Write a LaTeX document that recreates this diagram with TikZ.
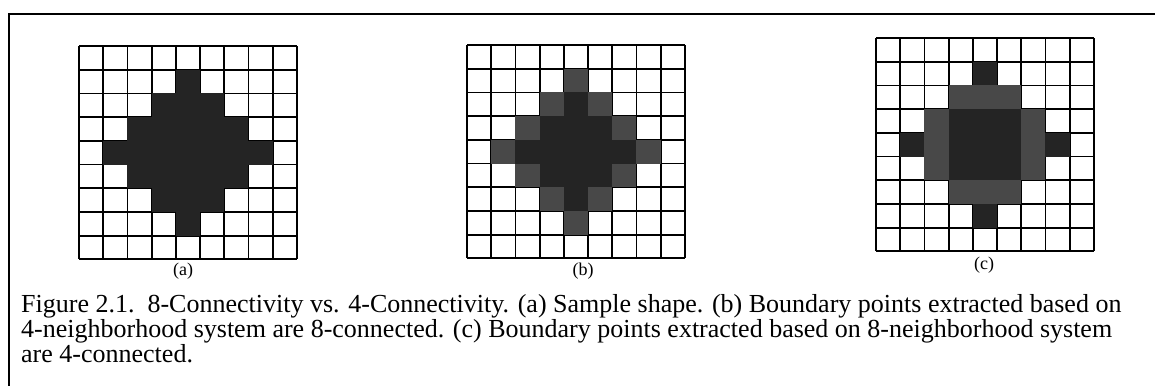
\documentclass[tikz,border=0pt]{standalone}
\usepackage{fontspec}
\setmainfont{Liberation Serif}
\usepackage{tikz}
\usetikzlibrary{positioning}
\definecolor{ink}{RGB}{36, 36, 36}
\definecolor{halftone}{RGB}{72, 72, 72}

\begin{document}
\begin{tikzpicture}[
  x=1pt, y=-1pt,
  gridline/.style={line width=1.8pt, black},
  frameline/.style={line width=2pt, black},
  fg/.style={fill=ink},
  edge/.style={fill=halftone},
  sublabel/.style={font=\fontsize{18}{18}\selectfont, inner sep=0pt},
  captext/.style={anchor=base west, inner sep=0pt, align=left,
    font=\fontsize{26}{23.6}\selectfont}
]
\useasboundingbox (0,0) rectangle (1155,386);
\draw[frameline] (1155,14) -| (9,386);

% (a) sample shape
\begin{scope}[shift={(79,46)}, x=24.2pt, y=-23.7pt]
  \foreach \i in {0,...,9} {
    \draw[gridline] (\i,0) -- (\i,9);
    \draw[gridline] (0,\i) -- (9,\i);
  }
  \foreach \r/\a/\b in {1/4/4, 2/3/5, 3/2/6, 4/1/7, 5/2/6, 6/3/5, 7/4/4}
    \fill[fg] (\a,\r) rectangle (\b+1,\r+1);
\end{scope}

% (b) 4-neighborhood boundary
\begin{scope}[shift={(467,45)}, x=24.2pt, y=-23.7pt]
  \foreach \i in {0,...,9} {
    \draw[gridline] (\i,0) -- (\i,9);
    \draw[gridline] (0,\i) -- (9,\i);
  }
  \foreach \r/\a/\b in {1/4/4, 2/3/5, 3/2/6, 4/1/7, 5/2/6, 6/3/5, 7/4/4}
    \fill[fg] (\a,\r) rectangle (\b+1,\r+1);
  \foreach \c/\r in {4/1, 3/2, 5/2, 2/3, 6/3, 1/4, 7/4, 2/5, 6/5, 3/6, 5/6, 4/7}
    \fill[edge] (\c,\r) rectangle (\c+1,\r+1);
\end{scope}

% (c) 8-neighborhood boundary
\begin{scope}[shift={(876,38)}, x=24.2pt, y=-23.7pt]
  \foreach \i in {0,...,9} {
    \draw[gridline] (\i,0) -- (\i,9);
    \draw[gridline] (0,\i) -- (9,\i);
  }
  \foreach \r/\a/\b in {1/4/4, 2/3/5, 3/2/6, 4/1/7, 5/2/6, 6/3/5, 7/4/4}
    \fill[fg] (\a,\r) rectangle (\b+1,\r+1);
  \foreach \c/\r in {3/2, 4/2, 5/2, 2/3, 2/4, 2/5, 6/3, 6/4, 6/5, 3/6, 4/6, 5/6}
    \fill[edge] (\c,\r) rectangle (\c+1,\r+1);
\end{scope}

\node[sublabel] (lbla) at (183,271) {(a)};
\node[sublabel] (lblb) at (583,271) {(b)};
\node[sublabel] (lblc) at (984,265) {(c)};

\node[captext] (caption) at (21,362) {Figure 2.1.\ \ 8-Connectivity vs. 4-Connectivity. (a) Sample shape. (b) Boundary points extracted based on\\
4-neighborhood system are 8-connected. (c) Boundary points extracted based on 8-neighborhood system\\
are 4-connected.};
\end{tikzpicture}
\end{document}
